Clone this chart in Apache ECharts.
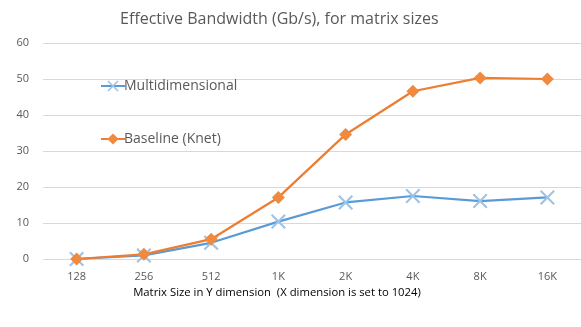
<!DOCTYPE html>
<html><head><meta charset="utf-8">
<script src="https://cdn.jsdelivr.net/npm/echarts@6/dist/echarts.min.js"></script>
<style>html,body{margin:0;padding:0;background:#fff}#c{width:581px;height:327px}</style>
</head><body><div id="c"></div>
<script>
const categories = ['128','256','512','1K','2K','4K','8K','16K'];
const multidimensional = [0, 1.0, 4.5, 10.4, 15.7, 17.5, 16.1, 17.1];
const baseline = [0, 1.3, 5.5, 17.1, 34.6, 46.6, 50.3, 50.0];
const yTicks = [0, 10, 20, 30, 40, 50, 60];

const crossPath = 'path://M0,1L1,0L5,4L9,0L10,1L6,5L10,9L9,10L5,6L1,10L0,9L4,5Z';
const chart = echarts.init(document.getElementById('c'));
chart.setOption({
  animation: false,
  title: {
    text: 'Effective Bandwidth (Gb/s), for matrix sizes',
    left: 115, top: 6,
    textStyle: {fontFamily: 'Open Sans', fontSize: 16, fontWeight: 'normal', color: '#595959'}
  },
  legend: {
    orient: 'vertical', left: 95, top: 74, itemGap: 39, itemWidth: 24, itemHeight: 14,
    textStyle: {fontFamily: 'Open Sans', fontSize: 14, color: '#595959', padding: [0,0,0,-6]},
    data: ['Multidimensional', 'Baseline (Knet)']
  },
  grid: {left: 43, right: 0, top: 43, bottom: 68},
  xAxis: {
    type: 'category', data: categories, boundaryGap: true,
    axisLine: {show: false}, axisTick: {show: false},
    axisLabel: {fontFamily: 'Open Sans', fontSize: 11, color: '#595959', margin: 12},
    name: 'Matrix Size in Y dimension  (X dimension is set to 1024)',
    nameLocation: 'middle', nameGap: 25,
    nameTextStyle: {fontFamily: 'Open Sans', fontSize: 11.3, color: '#000', padding: [0, 70, 0, 0]}
  },
  yAxis: {
    type: 'value', min: yTicks[0], max: yTicks[yTicks.length-1], interval: 10,
    axisLine: {show: false}, axisTick: {show: false},
    axisLabel: {fontFamily: 'Open Sans', fontSize: 11, color: '#595959', margin: 14},
    splitLine: {lineStyle: {color: '#d9d9d9', width: 1}}
  },
  series: [
    {
      name: 'Multidimensional', type: 'line', data: multidimensional,
      symbol: crossPath, symbolSize: 15, z: 2,
      lineStyle: {color: '#5B9BD5', width: 2.25},
      itemStyle: {color: '#9DC3E6'}
    },
    {
      name: 'Baseline (Knet)', type: 'line', data: baseline,
      symbol: 'diamond', symbolSize: 13, z: 3,
      lineStyle: {color: '#ED7D31', width: 2.25},
      itemStyle: {color: '#F08A3E'}
    }
  ]
});
</script></body></html>
